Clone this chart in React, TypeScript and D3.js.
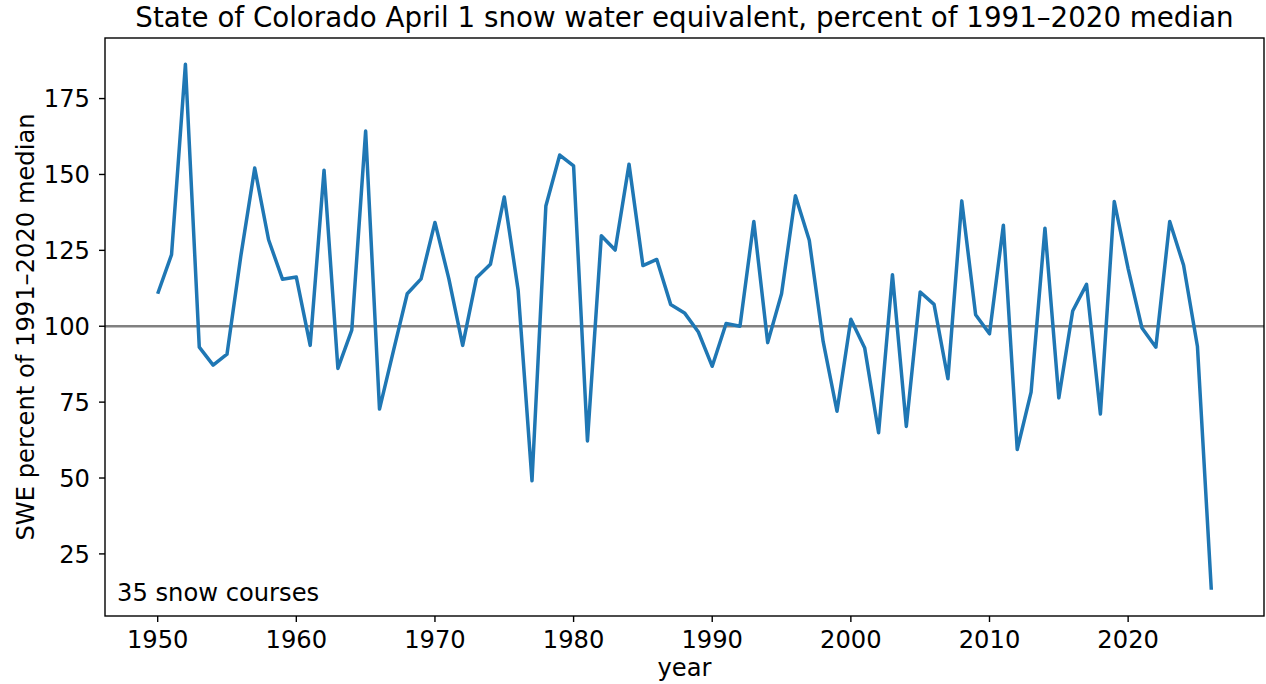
import React from 'react';
import * as d3 from 'd3';

// April 1 SWE, percent of 1991–2020 median
const years = d3.range(1950, 2027);
const swePercent = [
  110.7, 123.6, 186.3, 93.1, 87.2, 90.8, 123.2, 152.1, 128.5, 115.5,
  116.2, 93.7, 151.4, 86.1, 98.7, 164.3, 72.7, 91.8, 110.7, 115.6,
  134.2, 115.7, 93.7, 116.0, 120.4, 142.6, 111.9, 49.1, 139.6, 156.4,
  152.8, 62.2, 129.8, 125.1, 153.4, 120.0, 122.0, 107.2, 104.4, 98.1,
  86.8, 100.9, 100.0, 134.5, 94.6, 110.7, 143.0, 128.3, 95.0, 72.0,
  102.3, 92.8, 64.9, 117.0, 67.0, 111.3, 107.2, 82.7, 141.3, 103.8,
  97.5, 133.3, 59.4, 78.3, 132.3, 76.4, 105.0, 113.8, 71.1, 141.1,
  119.0, 99.4, 93.1, 134.5, 120.1, 93.3, 13.2,
];
const xTicks = [1950, 1960, 1970, 1980, 1990, 2000, 2010, 2020];
const yTicks = [25, 50, 75, 100, 125, 150, 175];
const medianLine = 100;

const titleText = 'State of Colorado April 1 snow water equivalent, percent of 1991\u20132020 median';
const xLabel = 'year';
const yLabel = 'SWE percent of 1991\u20132020 median';
const note = '35 snow courses';

const width = 1266;
const height = 684;
const left = 105;
const right = 1264;
const top = 38;
const bottom = 616;
const font = 'DejaVu Sans, sans-serif';
const fs = 24.2;

export default function App() {
  // matplotlib-style 5% margins on both axes
  const xPad = (years[years.length - 1] - years[0]) * 0.05;
  const yMin = d3.min(swePercent) as number;
  const yMax = d3.max(swePercent) as number;
  const yPad = (yMax - yMin) * 0.05;

  const x = d3.scaleLinear()
    .domain([years[0] - xPad, years[years.length - 1] + xPad])
    .range([left, right]);
  const y = d3.scaleLinear()
    .domain([yMin - yPad, yMax + yPad])
    .range([bottom, top]);

  const line = d3.line<number>()
    .x((_d, i) => x(years[i]))
    .y(d => y(d));

  return (
    <svg width={width} height={height} viewBox={`0 0 ${width} ${height}`}
      style={{ position: 'absolute', left: 0, top: 0, background: '#fff' }}
      fontFamily={font}>
      <line x1={left} x2={right} y1={y(medianLine)} y2={y(medianLine)}
        stroke="#808080" strokeWidth={2.5} />
      <path d={line(swePercent) || ''} fill="none" stroke="#1f77b4"
        strokeWidth={3.5} strokeLinejoin="round" strokeLinecap="butt" />
      <rect x={left} y={top} width={right - left} height={bottom - top}
        fill="none" stroke="#000" strokeWidth={1.4} />

      {xTicks.map(t => (
        <g key={t} transform={`translate(${x(t)},${bottom})`}>
          <line y1={0} y2={6} stroke="#000" strokeWidth={1.4} />
          <text y={32} textAnchor="middle" fontSize={fs} fill="#000">{t}</text>
        </g>
      ))}
      {yTicks.map(t => (
        <g key={t} transform={`translate(${left},${y(t)})`}>
          <line x1={-6} x2={0} stroke="#000" strokeWidth={1.4} />
          <text x={-15} dy="0.36em" textAnchor="end" fontSize={fs} fill="#000">{t}</text>
        </g>
      ))}

      <text x={117} y={601} fontSize={fs} fill="#000">{note}</text>

      <text x={(left + right) / 2} y={27} textAnchor="middle" fontSize={27.7} fill="#000">
        {titleText}
      </text>
      <text x={(left + right) / 2} y={676} textAnchor="middle" fontSize={fs} fill="#000">
        {xLabel}
      </text>
      <text transform={`translate(34,${(top + bottom) / 2}) rotate(-90)`} textAnchor="middle"
        fontSize={fs} fill="#000">{yLabel}</text>
    </svg>
  );
}
